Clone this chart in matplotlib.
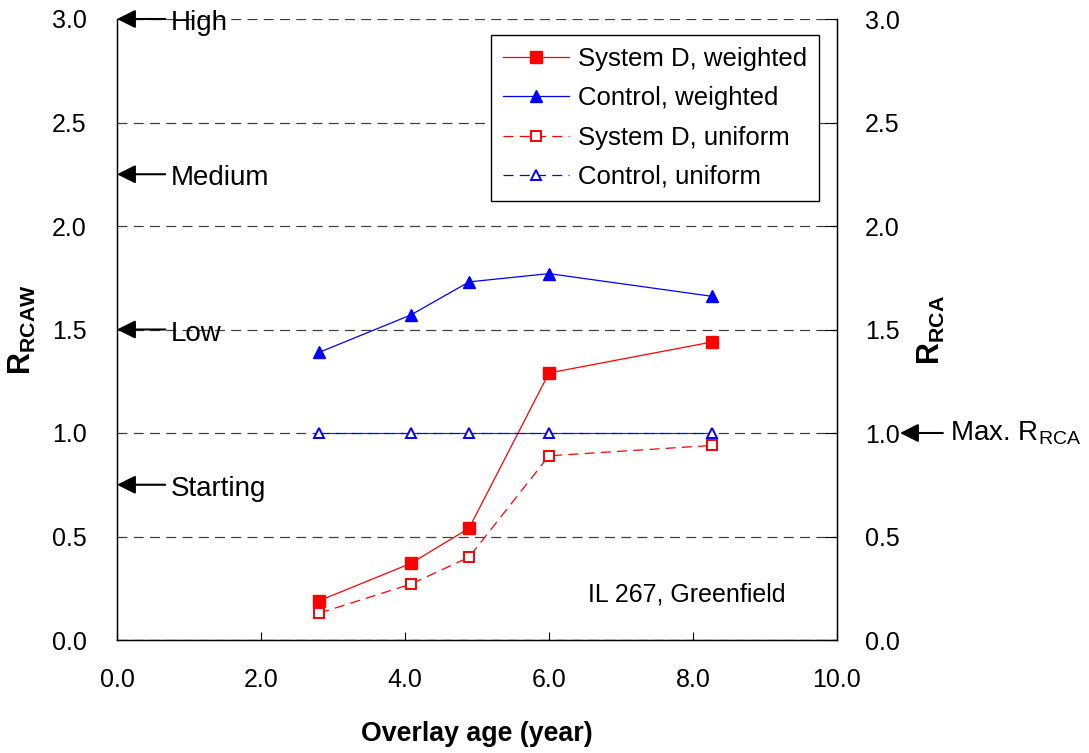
import numpy as np
import matplotlib
matplotlib.use("Agg")
import matplotlib.pyplot as plt
from matplotlib.ticker import FormatStrFormatter

plt.rcParams['font.family'] = ['Liberation Sans', 'DejaVu Sans']
plt.rcParams['mathtext.fontset'] = 'custom'
plt.rcParams['mathtext.rm'] = 'Liberation Sans'
plt.rcParams['mathtext.bf'] = 'Liberation Sans:bold'
plt.rcParams['mathtext.it'] = 'Liberation Sans:italic'

# =============================================================================
# Data
# =============================================================================
age = [2.81, 4.08, 4.89, 6.00, 8.27]               # overlay age (year)
sysd_weighted = [0.19, 0.37, 0.54, 1.29, 1.44]
ctrl_weighted = [1.39, 1.57, 1.73, 1.77, 1.66]
sysd_uniform = [0.13, 0.27, 0.40, 0.89, 0.94]
ctrl_uniform = [1.00, 1.00, 1.00, 1.00, 1.00]

level_names = ['High', 'Medium', 'Low', 'Starting']
level_values = [3.0, 2.25, 1.5, 0.75]

x_ticks = [0, 2, 4, 6, 8, 10]
y_ticks = [0.0, 0.5, 1.0, 1.5, 2.0, 2.5, 3.0]

FS = 18

# =============================================================================
# Figure
# =============================================================================
fig = plt.figure(figsize=(10.89, 7.53), dpi=100)
ax = fig.add_axes([117 / 1089, 1 - 640 / 753, 720 / 1089, 621 / 753])

ax.plot(age, sysd_weighted, color='red', lw=0.9, marker='s', ms=8,
        mfc='red', mec='red', label='System D, weighted', zorder=4)
ax.plot(age, ctrl_weighted, color='blue', lw=0.9, marker='^', ms=9,
        mfc='blue', mec='blue', label='Control, weighted', zorder=4)
ax.plot(age, sysd_uniform, color='red', lw=0.9, ls=(0, (8, 5)), marker='s',
        ms=6.5, mfc='white', mec='red', mew=1.4, label='System D, uniform', zorder=4)
ax.plot(age, ctrl_uniform, color='blue', lw=0.9, ls=(0, (8, 5)), marker='^',
        ms=7.5, mfc='white', mec='blue', mew=1.4, label='Control, uniform', zorder=4)

ax.set_xlim(0, 10)
ax.set_ylim(0, 3)
ax.set_xticks(x_ticks)
ax.set_yticks(y_ticks)
ax.xaxis.set_major_formatter(FormatStrFormatter('%.1f'))
ax.yaxis.set_major_formatter(FormatStrFormatter('%.1f'))
ax.tick_params(axis='x', direction='in', length=6, width=0.8, pad=20, labelsize=FS)
ax.tick_params(axis='y', direction='in', length=0, pad=22, labelsize=FS)

ax.yaxis.grid(True, color='#404040', lw=0.9, ls=(0, (8, 5)))
ax.set_axisbelow(True)
ax.spines['top'].set_visible(False)
for s in ['left', 'bottom', 'right']:
    ax.spines[s].set_linewidth(1.0)

ax.set_xlabel('Overlay age (year)', fontsize=FS + 1.3, fontweight='bold', labelpad=21)
ax.set_ylabel(r'$\mathbf{R_{RCAW}}$', fontsize=FS + 4)
ax.yaxis.set_label_coords(-0.11, 0.5)

# right axis
ax2 = ax.twinx()
ax2.set_ylim(0, 3)
ax2.set_yticks(y_ticks)
ax2.yaxis.set_major_formatter(FormatStrFormatter('%.1f'))
ax2.tick_params(axis='y', direction='in', length=9, width=0.8, pad=20, labelsize=FS)
ax2.spines['top'].set_visible(False)
ax2.set_ylabel(r'$\mathbf{R_{RCA}}$', fontsize=FS + 4, labelpad=12)

arrow_style = dict(arrowstyle='-|>', color='black', lw=1.5,
                   mutation_scale=28, shrinkA=0, shrinkB=0)

# level arrows on the left
for name, val in zip(level_names, level_values):
    ax.annotate('', xy=(0, val), xytext=(0.67, val), arrowprops=arrow_style,
                annotation_clip=False, zorder=5)
    ax.text(0.74, val - 0.02, name, fontsize=FS + 2, ha='left', va='center', zorder=5)

# Max. RCA arrow on the right
tr = ax.get_yaxis_transform()
ax.annotate('', xy=(1.0875, 1.0), xycoords=tr, xytext=(1.147, 1.0), textcoords=tr,
            arrowprops=arrow_style, annotation_clip=False)
ax.text(1.157, 1.0, r'Max. R$_{\mathrm{RCA}}$', transform=tr, fontsize=FS + 2,
        ha='left', va='center')

ax.text(9.28, 0.22, 'IL 267, Greenfield', fontsize=FS, ha='right', va='center')

leg = ax.legend(loc='upper right', bbox_to_anchor=(0.975, 0.974), borderaxespad=0,
                fontsize=FS + 0.5, frameon=True, fancybox=False, framealpha=1,
                edgecolor='black', handlelength=2.6, labelspacing=0.6,
                handletextpad=0.35, borderpad=0.45)
leg.get_frame().set_linewidth(1.0)
leg.set_zorder(6)

fig.savefig('out.png', dpi=100)
